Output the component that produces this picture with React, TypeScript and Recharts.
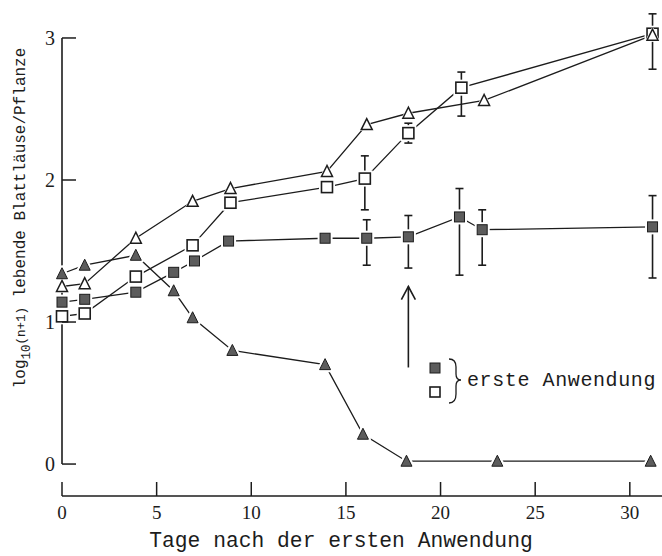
import React from "react"
import { ComposedChart, Line, XAxis, YAxis, ErrorBar, ReferenceLine, Legend, Label } from "recharts"

// Tage nach der ersten Anwendung (x) / log10(n+1) (y)
const filledSquareDays = [0, 1.2, 3.9, 5.9, 7, 8.8, 13.9, 16.1, 18.3, 21, 22.2, 31.2]
const filledSquareValues = [1.14, 1.16, 1.21, 1.35, 1.43, 1.57, 1.59, 1.59, 1.6, 1.74, 1.65, 1.67]
const filledSquareLow = [null, null, null, null, null, null, null, 1.4, 1.38, 1.33, 1.4, 1.31]
const filledSquareHigh = [null, null, null, null, null, null, null, 1.72, 1.75, 1.94, 1.79, 1.89]

const openSquareDays = [0, 1.2, 3.9, 6.9, 8.9, 14, 16, 18.3, 21.1, 31.2]
const openSquareValues = [1.04, 1.06, 1.32, 1.54, 1.84, 1.95, 2.01, 2.33, 2.65, 3.03]
const openSquareLow = [null, null, null, null, null, null, 1.79, 2.26, 2.45, 2.78]
const openSquareHigh = [null, null, null, null, null, null, 2.17, 2.4, 2.76, 3.17]

const openTriangleDays = [0, 1.2, 3.9, 6.9, 8.9, 14, 16.1, 18.3, 22.3, 31.2]
const openTriangleValues = [1.25, 1.27, 1.59, 1.85, 1.94, 2.06, 2.39, 2.47, 2.56, 3.02]

const filledTriangleDays = [0, 1.2, 3.9, 5.9, 6.9, 9, 13.9, 15.9, 18.2, 23, 31.1]
const filledTriangleValues = [1.34, 1.4, 1.47, 1.22, 1.03, 0.8, 0.7, 0.21, 0.02, 0.02, 0.02]

const xTicks = [0, 5, 10, 15, 20, 25, 30]
const yTicks = [0, 1, 2, 3]
const arrowDay = 18.3
const arrowFrom = 0.68
const arrowTo = 1.25

const MONO = "'Liberation Mono', 'DejaVu Sans Mono', monospace"
const SERIF = "'Liberation Serif', 'DejaVu Serif', serif"
const INK = "#1c1c1c"
const GREY = "#5c5c5c"

function build(days: number[], values: number[], low?: (number | null)[], high?: (number | null)[]) {
    return days.map((d, i) => ({
        day: d,
        value: values[i],
        err: low && high && low[i] != null && high[i] != null
            ? [values[i] - (low[i] as number), (high[i] as number) - values[i]]
            : null,
    }))
}

const filledSquares = build(filledSquareDays, filledSquareValues, filledSquareLow, filledSquareHigh)
const openSquares = build(openSquareDays, openSquareValues, openSquareLow, openSquareHigh)
const openTriangles = build(openTriangleDays, openTriangleValues)
const filledTriangles = build(filledTriangleDays, filledTriangleValues)

const square = (filled: boolean) => (props: any) => {
    const { cx, cy, index } = props
    if (cx == null || cy == null) return <g key={index} />
    const s = filled ? 10 : 11
    return (
        <g key={index}>
            <rect x={cx - s / 2} y={cy - s / 2} width={s} height={s} fill="#fff" stroke="#fff" strokeWidth={5} />
            <rect
                x={cx - s / 2}
                y={cy - s / 2}
                width={s}
                height={s}
                fill={filled ? GREY : "#fff"}
                stroke={INK}
                strokeWidth={filled ? 1 : 1.6}
            />
        </g>
    )
}

const triangle = (filled: boolean) => (props: any) => {
    const { cx, cy, index } = props
    if (cx == null || cy == null) return <g key={index} />
    const w = 11
    const h = 10
    const pts = `${cx},${cy - h / 2 - 1} ${cx - w / 2},${cy + h / 2} ${cx + w / 2},${cy + h / 2}`
    return (
        <g key={index}>
            <polygon points={pts} fill="#fff" stroke="#fff" strokeWidth={filled ? 5 : 2.5} strokeLinejoin="round" />
            <polygon points={pts} fill={filled ? GREY : "#fff"} stroke={INK} strokeWidth={filled ? 1 : 1.5} />
        </g>
    )
}

const XTick = (props: any) => {
    const { x, y, payload } = props
    return (
        <g>
            <line x1={x} y1={y} x2={x} y2={y - 14} stroke={INK} strokeWidth={1.5} />
            <text x={x} y={y + 23} textAnchor="middle" fontFamily={SERIF} fontSize={19} fill={INK}>
                {payload.value}
            </text>
        </g>
    )
}

const YTick = (props: any) => {
    const { x, y, payload } = props
    return (
        <g>
            <line x1={x} y1={y} x2={x + 14} y2={y} stroke={INK} strokeWidth={1.5} />
            <text x={x - 7} y={y + 7} textAnchor="end" fontFamily={SERIF} fontSize={20} fill={INK}>
                {payload.value}
            </text>
        </g>
    )
}

const Arrow = (props: any) => {
    const { x1, y1, y2 } = props
    const top = Math.min(y1, y2)
    const bottom = Math.max(y1, y2)
    return (
        <g stroke={INK} strokeWidth={1.6} fill="none">
            <line x1={x1} y1={top} x2={x1} y2={bottom} />
            <polyline points={`${x1 - 7},${top + 13} ${x1},${top} ${x1 + 7},${top + 13}`} />
        </g>
    )
}

const LegendBox = () => (
    <svg width={240} height={52} style={{ display: "block" }}>
        <rect x={3} y={7} width={10} height={10} fill={GREY} stroke={INK} strokeWidth={1} />
        <rect x={3} y={31} width={10} height={10} fill="#fff" stroke={INK} strokeWidth={1.6} />
        <path
            d="M22 3 Q29 3 29 11 L29 18 Q29 24 34 24 Q29 24 29 30 L29 38 Q29 47 22 47"
            fill="none"
            stroke={INK}
            strokeWidth={1.3}
        />
        <text x={40} y={30} fontFamily={MONO} fontSize={20} letterSpacing={0.6} fill={INK}>
            erste Anwendung
        </text>
    </svg>
)

export default function App() {
    return (
        <div style={{ position: "absolute", left: 8, top: 8, width: 654, height: 548, background: "#fff" }}>
            <ComposedChart width={654} height={548} margin={{ top: 2, right: 0, bottom: 0, left: 0 }}>
                <XAxis
                    type="number"
                    dataKey="day"
                    domain={[0, 31.7]}
                    ticks={xTicks}
                    allowDuplicatedCategory={false}
                    height={60}
                    axisLine={{ stroke: INK, strokeWidth: 1.5 }}
                    tickLine={false}
                    tickSize={0}
                    tickMargin={0}
                    tick={<XTick />}
                >
                    <Label
                        content={(p: any) => (
                            <text
                                x={p.viewBox.x + 279}
                                y={p.viewBox.y + 51}
                                textAnchor="middle"
                                fontFamily={MONO}
                                fontSize={21.3}
                                fill={INK}
                            >
                                Tage nach der ersten Anwendung
                            </text>
                        )}
                    />
                </XAxis>
                <YAxis
                    type="number"
                    domain={[-0.225, 3.197]}
                    ticks={yTicks}
                    width={54}
                    axisLine={false}
                    tickLine={false}
                    tickSize={0}
                    tickMargin={0}
                    tick={<YTick />}
                >
                    <Label
                        content={() => (
                            <text
                                transform="rotate(-90, 17, 210)"
                                x={17}
                                y={210}
                                textAnchor="middle"
                                fontFamily={MONO}
                                fontSize={16}
                                fill={INK}
                            >
                                <tspan>log</tspan>
                                <tspan dy={5} fontSize={12.5}>10</tspan>
                                <tspan dy={-5} fontSize={12.5}>(n+1)</tspan>
                                <tspan> lebende Blattläuse/Pflanze</tspan>
                            </text>
                        )}
                    />
                </YAxis>
                <ReferenceLine
                    segment={[{ x: 0, y: yTicks[0] }, { x: 0, y: yTicks[yTicks.length - 1] }]}
                    stroke={INK}
                    strokeWidth={1.6}
                />
                <ReferenceLine
                    segment={[{ x: arrowDay, y: arrowFrom }, { x: arrowDay, y: arrowTo }]}
                    shape={<Arrow />}
                />
                <Line
                    data={filledTriangles}
                    dataKey="value"
                    stroke={INK}
                    strokeWidth={1.3}
                    dot={triangle(true)}
                    isAnimationActive={false}
                />
                <Line
                    data={filledSquares}
                    dataKey="value"
                    stroke={INK}
                    strokeWidth={1.3}
                    dot={square(true)}
                    isAnimationActive={false}
                >
                    <ErrorBar dataKey="err" width={4} stroke={INK} strokeWidth={1.6} direction="y" />
                </Line>
                <Line
                    data={openSquares}
                    dataKey="value"
                    stroke={INK}
                    strokeWidth={1.3}
                    dot={square(false)}
                    isAnimationActive={false}
                >
                    <ErrorBar dataKey="err" width={4} stroke={INK} strokeWidth={1.6} direction="y" />
                </Line>
                <Line
                    data={openTriangles}
                    dataKey="value"
                    stroke={INK}
                    strokeWidth={1.3}
                    dot={triangle(false)}
                    isAnimationActive={false}
                />
                <Legend
                    layout="horizontal"
                    verticalAlign="middle"
                    align="center"
                    content={<LegendBox />}
                    wrapperStyle={{ left: 419, top: 348, width: "auto" }}
                />
            </ComposedChart>
        </div>
    )
}
